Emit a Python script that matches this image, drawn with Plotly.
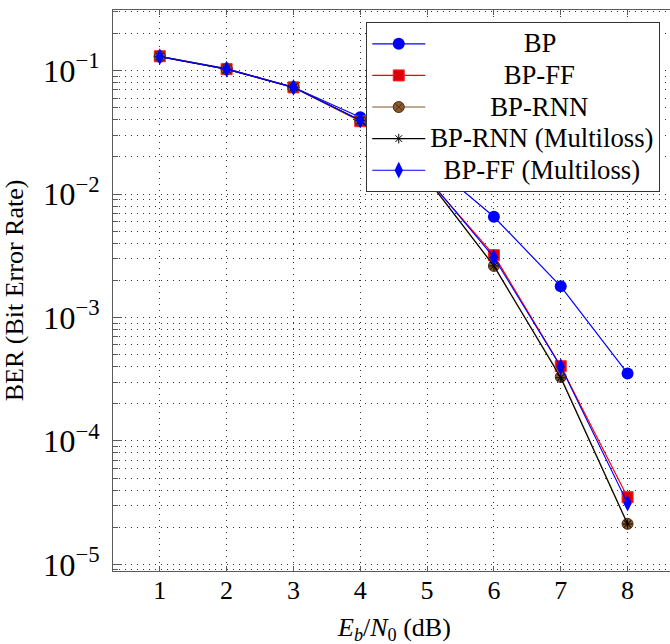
import plotly.graph_objects as go

# Eb/N0 operating points (dB)
ebn0 = [1, 2, 3, 4, 5, 6, 7, 8]

# Bit error rate per decoder
ber_bp = [0.131, 0.104, 0.0735, 0.042, 0.0187, 6.55e-3, 1.79e-3, 3.52e-4]
ber_bp_ff = [0.131, 0.103, 0.0733, 0.0390, 0.0134, 3.2e-3, 4.03e-4, 3.5e-5]
ber_bp_rnn = [0.130, 0.103, 0.0733, 0.0395, 0.0133, 2.62e-3, 3.3e-4, 2.13e-5]
ber_bp_rnn_ml = [0.130, 0.103, 0.0733, 0.0395, 0.0133, 2.62e-3, 3.25e-4, 2.12e-5]
ber_bp_ff_ml = [0.130, 0.103, 0.0733, 0.0398, 0.0136, 3.07e-3, 4.0e-4, 3.13e-5]

series_names = ["BP", "BP-FF", "BP-RNN", "BP-RNN (Multiloss)", "BP-FF (Multiloss)"]

FONT = "Liberation Serif, Times New Roman, serif"
FS = 26
LEG_ROW_FS = 22      # drives legend row height
LEG_TEXT_FS = 26.7   # glyph size of legend labels
NBSP = "\u00a0"

# approximate Times glyph widths (em) used to centre the legend labels
W = {"B": .667, "P": .556, "-": .333, "F": .556, "R": .667, "N": .722, " ": .25,
     "(": .333, ")": .333, "M": .889, "u": .5, "l": .278, "t": .278, "i": .278,
     "o": .5, "s": .389}


def text_width(s):
    return sum(W.get(c, .5) for c in s)


wmax = max(text_width(n) for n in series_names)


def legend_label(name):
    pad = int(round((wmax - text_width(name)) / 2 / 0.25))
    return f'<span style="font-size:{LEG_TEXT_FS}px">{NBSP * pad}{name}</span>'


styles = [
    dict(y=ber_bp, line=dict(color="#0000ff", width=1.2),
         marker=dict(symbol="circle", size=12, color="#0000ff", line=dict(width=0))),
    dict(y=ber_bp_ff, line=dict(color="#ff0000", width=1.2),
         marker=dict(symbol="square", size=11, color="#e00000", line=dict(color="#ff2020", width=1))),
    dict(y=ber_bp_rnn, line=dict(color="#a88c6c", width=1.4),
         marker=dict(symbol="circle-x", size=11, color="#8c5a2e", line=dict(color="#4a2e14", width=1))),
    dict(y=ber_bp_rnn_ml, line=dict(color="#000000", width=1.1),
         marker=dict(symbol="asterisk-open", size=8, color="#000000", line=dict(color="#000000", width=1))),
    dict(y=ber_bp_ff_ml, line=dict(color="#0000ff", width=1.1),
         marker=dict(symbol="diamond-tall", size=12, color="#0000ff", line=dict(width=0))),
]

fig = go.Figure()
for name, st in zip(series_names, styles):
    fig.add_trace(go.Scatter(x=ebn0, y=st["y"], mode="lines+markers", name=legend_label(name),
                             line=st["line"], marker=st["marker"]))

grid = dict(gridcolor="rgba(0,0,0,0.8)", gridwidth=1, griddash="1px,5px")
axcol = "#5a5a5a"

fig.update_layout(
    width=670, height=644,
    margin=dict(l=113, r=0, t=10, b=73),
    paper_bgcolor="white", plot_bgcolor="white",
    font=dict(family=FONT, size=FS, color="black"),
    showlegend=True,
    legend=dict(x=0.9825, y=0.9786, xanchor="right", yanchor="top",
                bgcolor="white", bordercolor="#333333", borderwidth=1,
                font=dict(family=FONT, size=LEG_ROW_FS, color="black"),
                itemwidth=53, tracegroupgap=0),
    xaxis=dict(range=[0.3, 8.635], tickvals=ebn0, ticks="inside", ticklen=5,
               tickcolor=axcol, showline=True, linecolor=axcol, linewidth=1.3,
               mirror="ticks", showgrid=True, zeroline=False,
               tickfont=dict(family=FONT, size=FS),
               ticklabelstandoff=-4, **grid),
    yaxis=dict(type="log", range=[-5.054, -0.508], dtick=1, exponentformat="power",
               ticks="inside", ticklen=9, tickcolor=axcol, showline=True,
               linecolor=axcol, linewidth=1.3, showgrid=True, zeroline=False,
               tickfont=dict(family=FONT, size=FS),
               ticklabelstandoff=7,
               title=dict(text="BER (Bit Error Rate)", standoff=21,
                          font=dict(family=FONT, size=FS)),
               minor=dict(dtick="D1", ticks="inside", ticklen=5, tickcolor=axcol,
                          showgrid=True, **grid),
               **grid),
    annotations=[dict(text="<i>E</i><sub><i>b</i></sub>/<i>N</i><sub>0</sub> (dB)",
                      x=4.5, xref="x", y=-0.103, yref="paper", yanchor="middle",
                      showarrow=False, font=dict(family=FONT, size=FS))],
)

fig.write_html("out.html")
